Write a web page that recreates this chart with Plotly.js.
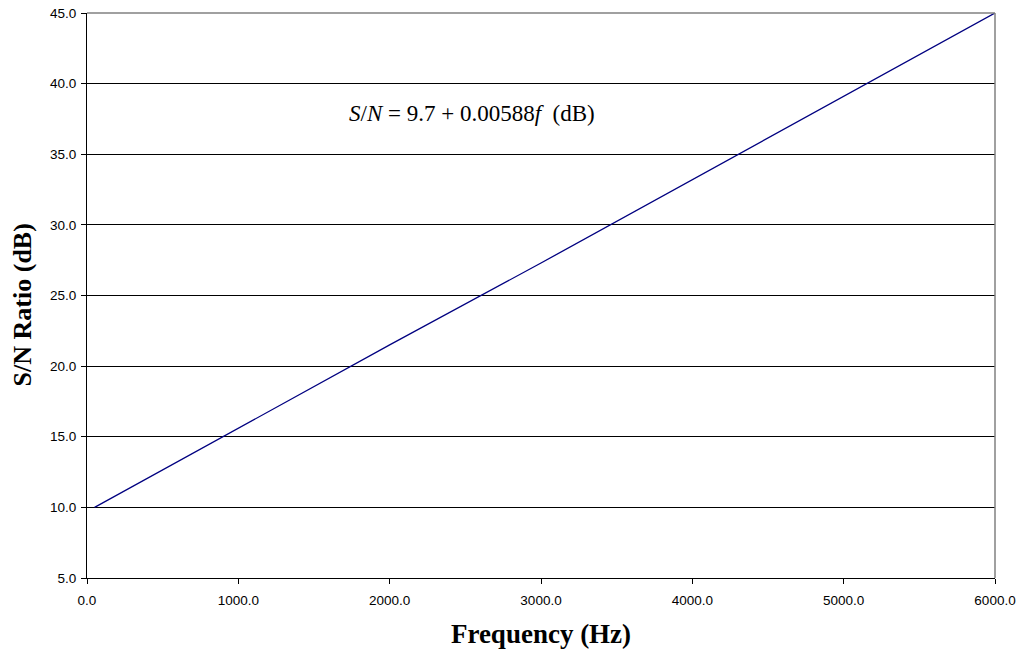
<!DOCTYPE html>
<html>
<head>
<meta charset="utf-8">
<script src="https://cdn.plot.ly/plotly-3.0.1.min.js"></script>
<style>html,body{margin:0;padding:0;background:#fff;}#chart{width:1021px;height:650px;}</style>
</head>
<body>
<div id="chart"></div>
<script>
// Data
var frequency = [50, 1000, 2000, 3000, 4000, 5000, 6000];
var snRatio = [10.0, 15.6, 21.5, 27.3, 33.2, 39.1, 45.0];
var xTickValues = [0, 1000, 2000, 3000, 4000, 5000, 6000];
var yTickValues = [5, 10, 15, 20, 25, 30, 35, 40, 45];
var equationLabel = '<i>S</i>/<i>N</i> = 9.7 + 0.00588<i>f</i>  (dB)';
var yTitleText = 'S/N Ratio (dB)';
var xTitleText = 'Frequency (Hz)';

var trace = {
  x: frequency,
  y: snRatio,
  type: 'scatter',
  mode: 'lines',
  line: {color: '#000080', width: 1.3},
  hoverinfo: 'skip'
};

var layout = {
  width: 1021,
  height: 650,
  margin: {l: 87, r: 26, t: 13, b: 72},
  paper_bgcolor: '#ffffff',
  plot_bgcolor: '#ffffff',
  showlegend: false,
  xaxis: {
    range: [0, 6000],
    tickvals: xTickValues,
    tickformat: '.1f',
    ticks: 'outside',
    ticklen: 5,
    tickcolor: '#000',
    ticklabelstandoff: 5,
    showgrid: false,
    zeroline: false,
    showline: true,
    linecolor: '#000',
    linewidth: 1,
    tickfont: {family: 'Liberation Sans, Arial, sans-serif', size: 13.5, color: '#000'},
    title: {text: xTitleText, font: {family: 'Liberation Serif, Times New Roman, serif', size: 27, color: '#000', weight: 'bold'}, standoff: 16},
    automargin: false,
    fixedrange: true
  },
  yaxis: {
    range: [5, 45],
    tickvals: yTickValues,
    tickformat: '.1f',
    ticks: 'outside',
    ticklen: 5,
    tickcolor: '#000',
    ticklabelstandoff: 2,
    showgrid: true,
    gridcolor: '#000',
    gridwidth: 1,
    zeroline: false,
    showline: true,
    linecolor: '#000',
    linewidth: 1,
    tickfont: {family: 'Liberation Sans, Arial, sans-serif', size: 13.5, color: '#000'},
    automargin: false,
    fixedrange: true
  },
  shapes: [
    {type: 'line', xref: 'paper', yref: 'paper', x0: 0, x1: 1, y0: 1, y1: 1, line: {color: '#808080', width: 1.5}},
    {type: 'line', xref: 'paper', yref: 'paper', x0: 1, x1: 1, y0: 0, y1: 1, line: {color: '#808080', width: 1.5}}
  ],
  annotations: [
    {
      x: 2544, y: 37.9, xref: 'x', yref: 'y',
      text: equationLabel,
      showarrow: false,
      xanchor: 'center', yanchor: 'middle',
      font: {family: 'Liberation Serif, Times New Roman, serif', size: 23, color: '#000'}
    },
    {
      x: 0, y: 24.3, xref: 'paper', yref: 'y',
      xshift: -65,
      text: '<b>' + yTitleText + '</b>',
      textangle: -90,
      showarrow: false,
      xanchor: 'center', yanchor: 'middle',
      font: {family: 'Liberation Serif, Times New Roman, serif', size: 26, color: '#000'}
    }
  ]
};

Plotly.newPlot('chart', [trace], layout, {displayModeBar: false, staticPlot: true});
</script>
</body>
</html>
